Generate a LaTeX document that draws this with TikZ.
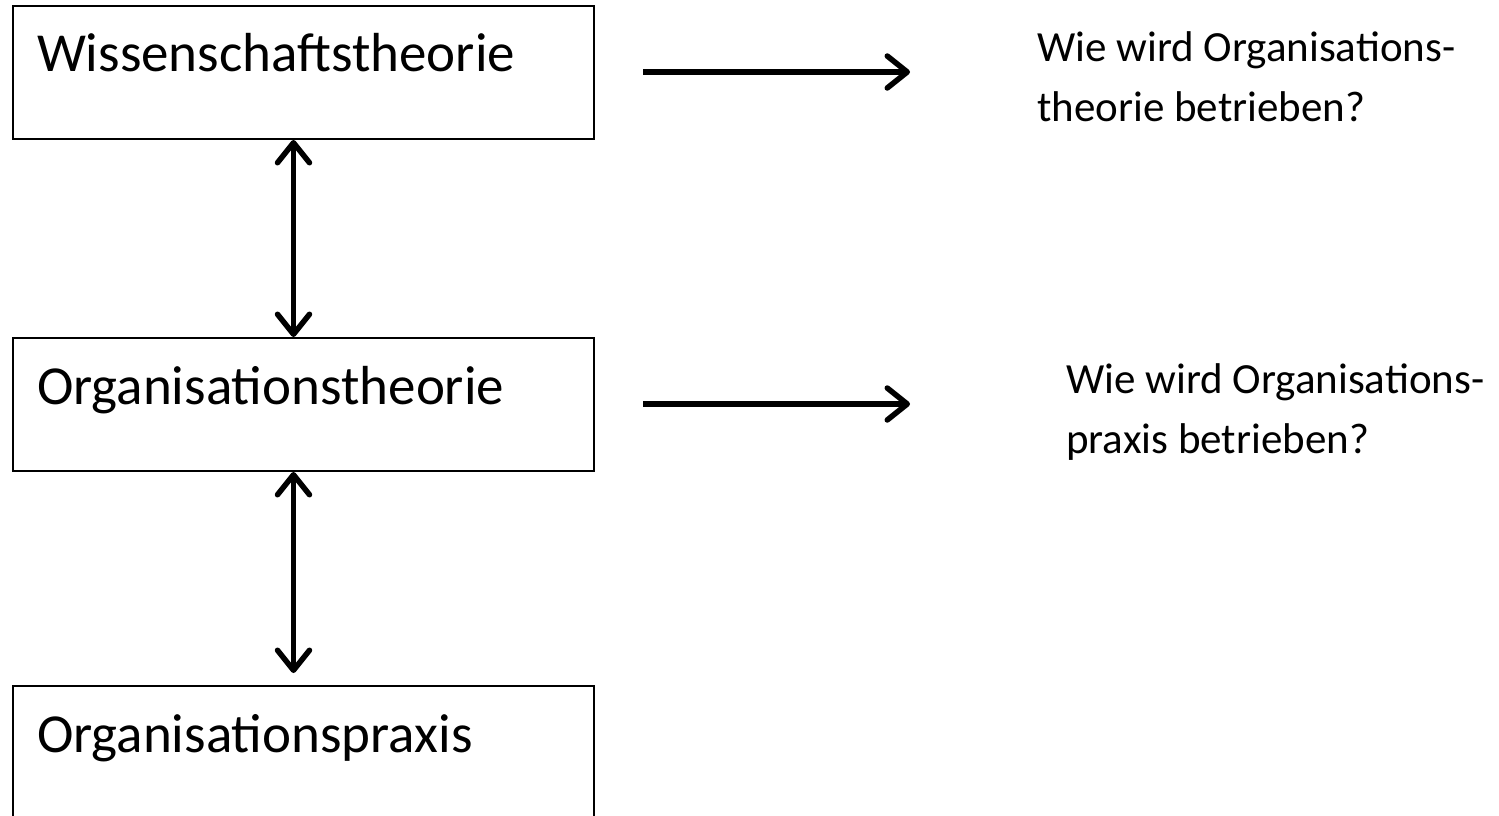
\documentclass[tikz,border=0pt]{standalone}
\usepackage{fontspec}
\setmainfont{Carlito}
\usetikzlibrary{arrows.meta}
\begin{document}
\begin{tikzpicture}
  [x=1pt,y=-1pt,
   box/.style={draw,line width=2pt,anchor=north west,inner xsep=24pt,inner ysep=0pt,
     text width=533pt,text height=66pt,text depth=67pt,align=left,
     font=\fontsize{55}{66}\selectfont},
   question/.style={anchor=north west,align=left,inner sep=0pt,
     font=\fontsize{43}{60}\selectfont},
   link/.style={line width=5.5pt,{Straight Barb[round,length=20pt,width=32pt]}-{Straight Barb[round,length=20pt,width=32pt]}},
   ask/.style={line width=5.5pt,-{Straight Barb[round,length=20pt,width=32pt]}}]
  \useasboundingbox (0,0) rectangle (1499,816);
  \node[box] (wt) at (12,5)   {Wissenschaftstheorie};
  \node[box] (ot) at (12,337) {Organisationstheorie};
  \node[box] (op) at (12,685) {Organisationspraxis};

  \node[question] (q1) at (1037,31)  {Wie wird Organisations-\\theorie betrieben?};
  \node[question] (q2) at (1066,363) {Wie wird Organisations-\\praxis betrieben?};

  \coordinate (a1) at (643,72);
  \coordinate (b1) at (910,72);
  \coordinate (a2) at (643,404);
  \coordinate (b2) at (910,404);
  \coordinate (c2) at ([shift={(-10pt,12pt)}]op.north);

  \draw[link] ([xshift=-10pt]wt.south) -- ([xshift=-10pt]ot.north);
  \draw[link] ([xshift=-10pt]ot.south) -- (c2);
  \foreach \from/\to in {a1/b1,a2/b2}
    \draw[ask] (\from) -- (\to);
\end{tikzpicture}
\end{document}
